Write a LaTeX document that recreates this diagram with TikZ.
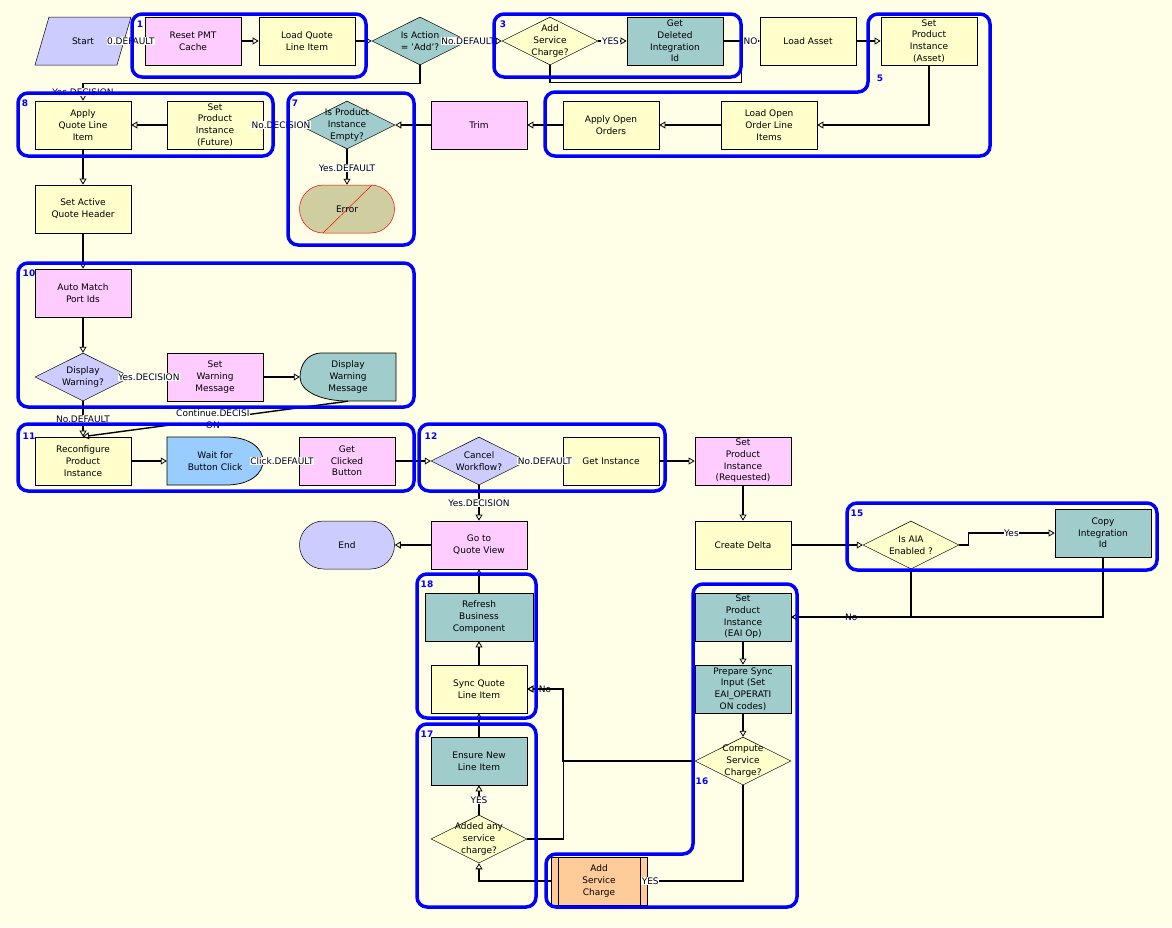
\documentclass[tikz,border=0pt]{standalone}
\usepackage{fontspec}
\setmainfont{DejaVu Sans}
\usetikzlibrary{shapes.geometric,arrows.meta}

\definecolor{bgyel}{RGB}{255,255,231}
\definecolor{pinkbox}{RGB}{255,204,255}
\definecolor{yelbox}{RGB}{255,255,204}
\definecolor{tealbox}{RGB}{160,204,204}
\definecolor{lavbox}{RGB}{204,204,255}
\definecolor{bluebox}{RGB}{153,204,255}
\definecolor{olivebox}{RGB}{206,206,160}
\definecolor{orangebox}{RGB}{255,204,153}
\definecolor{grpblue}{RGB}{0,0,255}

\begin{document}
\begin{tikzpicture}
[x=1pt, y=-1pt,
 font=\fontsize{9}{11.7}\selectfont,
 >={Triangle[open,length=6pt,width=7pt,line width=0.8pt]},
 task/.style={shape=rectangle,draw,fill=#1,line width=0.75pt,minimum width=96pt,minimum height=48pt,inner sep=1pt,align=center},
 plain/.style={shape=rectangle,minimum width=96pt,minimum height=48pt,inner sep=1pt,align=center},
 dec/.style={shape=diamond,draw,fill=#1,line width=0.5pt,minimum width=96pt,minimum height=48pt,inner sep=0pt},
 dtext/.style={align=center,inner sep=0pt},
 term/.style={shape=rectangle,draw,fill=#1,line width=0.5pt,rounded corners=23.9pt,minimum width=95pt,minimum height=48pt},
 flow/.style={->,line width=1.4pt},
 lbl/.style={fill=white,inner sep=0.6pt,align=center},
 grp/.style={draw=grpblue,line width=3.5pt,rounded corners=10pt},
 grplbl/.style={text=grpblue,inner sep=0pt,font=\fontsize{9}{10}\selectfont\bfseries}]
\fill[bgyel] (0,0) rectangle (1172,927);
\filldraw[fill=lavbox,line width=0.5pt] (49,17) -- (131,17) -- (117,65) -- (35,65) -- cycle;
\node[plain,minimum width=82pt] (start) at (83,41) {Start};
\node[task=pinkbox] (rpmt) at (193,41) {Reset PMT\\Cache};
\node[task=yelbox] (lqli) at (307,41) {Load Quote\\Line Item};
\node[dec=tealbox,label={[dtext]center:{Is Action\\= 'Add'?}}] (isadd) at (420,41) {};
\node[dec=yelbox,label={[dtext]center:{Add\\Service\\Charge?}}] (addsc) at (550,41) {};
\node[task=tealbox] (gdii) at (675,41) {Get\\Deleted\\Integration\\Id};
\node[task=yelbox] (lasset) at (808,41) {Load Asset};
\node[task=yelbox] (spiasset) at (929,41) {Set\\Product\\Instance\\(Asset)};
\node[task=yelbox] (aqli) at (83,125) {Apply\\Quote Line\\Item};
\node[task=yelbox] (spifut) at (215,125) {Set\\Product\\Instance\\(Future)};
\node[dec=tealbox,label={[dtext]center:{Is Product\\Instance\\Empty?}}] (ispie) at (347,125) {};
\node[task=pinkbox] (trim) at (479,125) {Trim};
\node[task=yelbox] (aoo) at (611,125) {Apply Open\\Orders};
\node[task=yelbox] (lool) at (769,125) {Load Open\\Order Line\\Items};
\node[term=olivebox,draw=red,path picture={\draw[red,line width=0.5pt] ([xshift=-24pt]path picture bounding box.south) -- ([xshift=25pt]path picture bounding box.north);}] (err) at (347,209) {Error};
\node[task=yelbox] (saqh) at (83,209) {Set Active\\Quote Header};
\node[task=pinkbox] (ampi) at (83,293) {Auto Match\\Port Ids};
\node[dec=lavbox,label={[dtext]center:{Display\\Warning?}}] (dispw) at (83,377) {};
\node[task=pinkbox] (swm) at (215,377) {Set\\Warning\\Message};
\filldraw[fill=tealbox,line width=0.75pt] (396,353) -- (322,353) .. controls (307,353) and (300,365) .. (300,377) .. controls (300,392) and (322,401) .. (348,401) -- (396,401) -- cycle;
\node[plain] (dwm) at (348,377) {Display\\Warning\\Message};
\node[task=yelbox] (rpi) at (83,461) {Reconfigure\\Product\\Instance};
\filldraw[fill=bluebox,line width=0.75pt] (167,437) -- (226,437) .. controls (251,437) and (263,449) .. (263,461) .. controls (263,473) and (251,485) .. (226,485) -- (167,485) -- cycle;
\node[plain] (wbc) at (215,461) {Wait for\\Button Click};
\node[task=pinkbox] (gcb) at (347,461) {Get\\Clicked\\Button};
\node[dec=lavbox,label={[dtext]center:{Cancel\\Workflow?}}] (cwf) at (479,461) {};
\node[task=yelbox] (ginst) at (611,461) {Get Instance};
\node[task=pinkbox] (spireq) at (743,461) {Set\\Product\\Instance\\(Requested)};
\node[task=yelbox] (cdelta) at (743,545) {Create Delta};
\node[dec=yelbox,label={[dtext]center:{Is AIA\\Enabled ?}}] (aia) at (911,545) {};
\node[task=tealbox] (cii) at (1103,533) {Copy\\Integration\\Id};
\node[term=lavbox] (end) at (347,545) {End};
\node[task=pinkbox] (gqv) at (479,545) {Go to\\Quote View};
\node[task=tealbox,minimum width=108pt] (rbc) at (479,617) {Refresh\\Business\\Component};
\node[task=yelbox] (sqli) at (479,689) {Sync Quote\\Line Item};
\node[task=tealbox] (enli) at (479,761) {Ensure New\\Line Item};
\node[dec=yelbox,label={[dtext]center:{Added any\\service\\charge?}}] (aasc) at (479,839) {};
\node[task=tealbox] (spieai) at (743,617) {Set\\Product\\Instance\\(EAI Op)};
\node[task=tealbox] (psi) at (743,689) {Prepare Sync\\Input (Set\\EAI\_OPERATI\\ON codes)};
\node[dec=yelbox,label={[dtext]center:{Compute\\Service\\Charge?}}] (csc) at (743,761) {};
\node[task=orangebox,path picture={\draw ([xshift=-41pt]path picture bounding box.south) -- ([xshift=-41pt]path picture bounding box.north); \draw ([xshift=41pt]path picture bounding box.south) -- ([xshift=41pt]path picture bounding box.north);}] (addsvc) at (599,881) {Add\\Service\\Charge};
\draw[flow] (start) -- node[lbl,pos=0.33] {0.DEFAULT} (rpmt);
\draw[flow] (rpmt) -- (lqli);
\draw[flow] (lqli) -- (isadd);
\draw[flow] (isadd) -- node[lbl,pos=0.0] {No.DEFAULT} (addsc);
\draw[flow] (isadd.south) -- ++(0,18) -| node[lbl,pos=0.75] {Yes.DECISION} (aqli.north);
\draw[flow] (addsc) -- node[lbl,pos=0.43] {YES} (gdii);
\draw[flow] (gdii) -- (lasset);
\draw[flow] (addsc.south) -- ++(0,17) -| ([xshift=-18pt]lasset.west) -- node[lbl] {NO} (lasset.west);
\draw[flow] (lasset) -- (spiasset);
\draw[flow] (spiasset.south) |- (lool.east);
\draw[flow] (lool) -- (aoo);
\draw[flow] (aoo) -- (trim);
\draw[flow] (trim) -- (ispie);
\draw[flow] (ispie) -- node[lbl] {No.DECISION} (spifut);
\draw[flow] (ispie) -- node[lbl,pos=0.53] {Yes.DEFAULT} (err);
\draw[flow] (spifut) -- (aqli);
\draw[flow] (aqli) -- (saqh);
\draw[flow] (saqh) -- (ampi);
\draw[flow] (ampi) -- (dispw);
\draw[flow] (dispw) -- node[lbl] {Yes.DECISION} (swm);
\draw[flow] (swm) -- (dwm);
\draw[flow] (dispw) -- node[lbl] {No.DEFAULT} (rpi);
\draw[flow] (dwm.south) -- node[lbl,pos=0.51] {Continue.DECISI\\ON} (rpi.north);
\draw[flow] (rpi) -- (wbc);
\draw[flow] (wbc) -- node[lbl,pos=0.53] {Click.DEFAULT} (gcb);
\draw[flow] (gcb) -- (cwf);
\draw[flow] (cwf) -- node[lbl] {No.DEFAULT} (ginst);
\draw[flow] (cwf) -- node[lbl] {Yes.DECISION} (gqv);
\draw[flow] (ginst) -- (spireq);
\draw[flow] (spireq) -- (cdelta);
\draw[flow] (cdelta) -- (aia);
\draw[flow] (aia.east) -- ++(9,0) |- node[lbl,pos=0.75] {Yes} (cii.west);
\draw[flow] (aia.south) |- node[lbl,pos=0.75] {No} (spieai.east);
\draw[flow] (cii.south) |- (spieai.east);
\draw[flow] (spieai) -- (psi);
\draw[flow] (psi) -- (csc);
\draw[flow] (csc.west) -- ++(-132,0) |- node[lbl,pos=0.75] {No} (sqli.east);
\draw[flow] (aasc.east) -- ++(36,0) |- (sqli.east);
\draw[flow] (csc.south) |- node[lbl,pos=0.985] {YES} (addsvc.east);
\draw[flow] (addsvc.west) -| (aasc.south);
\draw[flow] (aasc) -- node[lbl] {YES} (enli);
\draw[flow] (enli) -- (sqli);
\draw[flow] (sqli) -- (rbc);
\draw[flow] (rbc) -- (gqv);
\draw[flow] (gqv) -- (end);
\draw[grp] (132,14) rectangle (366,77);
\draw[grp] (494,14) rectangle (741,77);
\draw[grp] (868,14) -- (990,14) -- (990,156) -- (545,156) -- (545,92) -- (868,92) -- cycle;
\draw[grp] (18,93) rectangle (273,156);
\draw[grp] (288,93) rectangle (414,245);
\draw[grp] (18,263) rectangle (414,407);
\draw[grp] (18,424) rectangle (414,491);
\draw[grp] (419,424) rectangle (665,491);
\draw[grp] (847,503) rectangle (1157,570);
\draw[grp] (693,584) -- (797,584) -- (797,907) -- (546,907) -- (546,854) -- (693,854) -- cycle;
\draw[grp] (417,724) rectangle (536,907);
\draw[grp] (417,574) rectangle (536,718);
\node[grplbl] (g1) at (140,24) {1};
\node[grplbl] (g3) at (503,24) {3};
\node[grplbl] (g5) at (880,78) {5};
\node[grplbl] (g8) at (25,103) {8};
\node[grplbl] (g7) at (295,103) {7};
\node[grplbl] (g10) at (29,273) {10};
\node[grplbl] (g11) at (29,436) {11};
\node[grplbl] (g12) at (431,436) {12};
\node[grplbl] (g15) at (857,513) {15};
\node[grplbl] (g16) at (702,781) {16};
\node[grplbl] (g17) at (427,734) {17};
\node[grplbl] (g18) at (427,584) {18};
\end{tikzpicture}
\end{document}
